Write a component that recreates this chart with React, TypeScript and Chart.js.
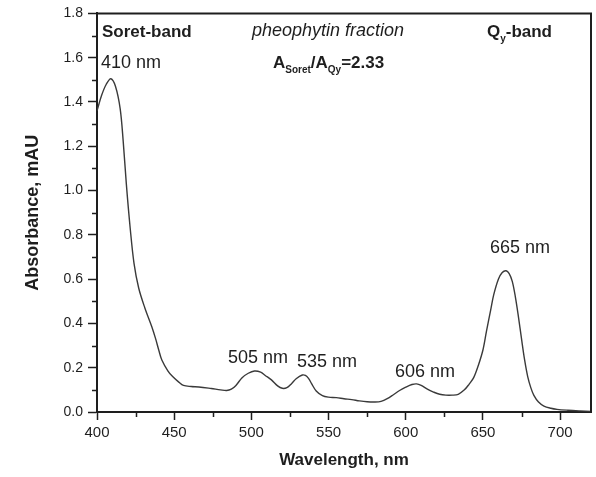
import React, { useEffect, useRef } from "react";
import { Chart, registerables } from "chart.js";

Chart.register(...registerables);

// ---- data ----
const wavelengths = [
  400, 403, 406, 409, 412, 415, 417, 419, 421.5, 424, 427, 431, 435.5, 438, 440, 442, 446, 449, 453, 456,
  461, 466, 474, 480, 484, 487, 490, 494, 498, 502, 506, 509, 513, 517, 520, 523, 526, 529, 533, 535,
  537, 539, 542, 546, 550, 555, 560, 565, 570, 575, 580, 584, 588, 592, 596, 600, 604, 607, 610, 614,
  618, 622, 626, 630, 634, 638, 641, 644, 647, 650, 652.3, 655, 657, 660, 662.5, 665, 667, 669, 671,
  673, 675, 677, 679, 681, 683, 686, 689.5, 694, 698, 705, 713, 720,
];
const absorbance = [
  1.36, 1.43, 1.48, 1.505, 1.47, 1.37, 1.22, 1.03, 0.83, 0.67, 0.56, 0.47, 0.385, 0.33, 0.28, 0.235, 0.185, 0.16, 0.135, 0.12,
  0.115, 0.113, 0.106, 0.1, 0.097, 0.103, 0.12, 0.155, 0.175, 0.185, 0.18, 0.165, 0.145, 0.118, 0.107, 0.11, 0.128, 0.15, 0.167, 0.165,
  0.152, 0.128, 0.095, 0.074, 0.067, 0.065, 0.06, 0.056, 0.05, 0.046, 0.045, 0.048, 0.06, 0.078, 0.097, 0.112, 0.124, 0.127, 0.12, 0.103,
  0.09, 0.08, 0.076, 0.076, 0.08, 0.1, 0.125, 0.155, 0.21, 0.28, 0.365, 0.46, 0.53, 0.6, 0.63, 0.638, 0.625, 0.59, 0.52,
  0.43, 0.33, 0.235, 0.16, 0.11, 0.075, 0.045, 0.027, 0.017, 0.012, 0.008, 0.005, 0.003,
];
const xTickValues = [400, 425, 450, 475, 500, 525, 550, 575, 600, 625, 650, 675, 700];
const xLabelValues = [400, 450, 500, 550, 600, 650, 700];
const yTickValues = [0, 0.1, 0.2, 0.3, 0.4, 0.5, 0.6, 0.7, 0.8, 0.9, 1.0, 1.1, 1.2, 1.3, 1.4, 1.5, 1.6, 1.7, 1.8];
const yLabelValues = [0, 0.2, 0.4, 0.6, 0.8, 1.0, 1.2, 1.4, 1.6, 1.8];
const xTitle = "Wavelength, nm";
const yTitle = "Absorbance, mAU";

type Part = { text: string; sub?: boolean };
type Note = { parts: Part[]; x: number; y: number; style: string; size: number };
const notes: Note[] = [
  { parts: [{ text: "Soret-band" }], x: 403.2, y: 1.692, style: "bold", size: 17 },
  { parts: [{ text: "pheophytin fraction" }], x: 500.4, y: 1.7, style: "italic", size: 18 },
  { parts: [{ text: "Q" }, { text: "y", sub: true }, { text: "-band" }], x: 652.6, y: 1.692, style: "bold", size: 17 },
  {
    parts: [
      { text: "A" }, { text: "Soret", sub: true }, { text: "/A" }, { text: "Qy", sub: true }, { text: "=2.33" },
    ],
    x: 514, y: 1.553, style: "bold", size: 17,
  },
  { parts: [{ text: "410 nm" }], x: 402.6, y: 1.554, style: "normal", size: 18 },
  { parts: [{ text: "505 nm" }], x: 484.8, y: 0.2205, style: "normal", size: 18 },
  { parts: [{ text: "535 nm" }], x: 529.5, y: 0.204, style: "normal", size: 18 },
  { parts: [{ text: "606 nm" }], x: 593, y: 0.159, style: "normal", size: 18 },
  { parts: [{ text: "665 nm" }], x: 654.5, y: 0.717, style: "normal", size: 18 },
];

const FONT = "'Liberation Sans', Arial, sans-serif";
const INK = "#1e1e1e";

const isLabelX = (v: number) => xLabelValues.some((l) => Math.abs(l - v) < 1e-6);
const isLabelY = (v: number) => yLabelValues.some((l) => Math.abs(l - v) < 1e-6);

const decorPlugin = {
  id: "decor",
  afterDraw(chart: any) {
    const { ctx, chartArea } = chart;
    const xs = chart.scales.x;
    const ys = chart.scales.y;
    ctx.save();
    // frame top & right
    ctx.strokeStyle = INK;
    ctx.lineWidth = 2;
    ctx.beginPath();
    ctx.moveTo(chartArea.left - 1, chartArea.top);
    ctx.lineTo(chartArea.right, chartArea.top);
    ctx.lineTo(chartArea.right, chartArea.bottom + 1);
    ctx.stroke();
    // minor ticks
    ctx.lineWidth = 1.5;
    ctx.beginPath();
    for (const v of xTickValues) {
      if (isLabelX(v)) continue;
      const px = Math.round(xs.getPixelForValue(v)) + 0.5;
      ctx.moveTo(px, chartArea.bottom);
      ctx.lineTo(px, chartArea.bottom + 5);
    }
    for (const v of yTickValues) {
      if (isLabelY(v)) continue;
      const py = Math.round(ys.getPixelForValue(v)) + 0.5;
      ctx.moveTo(chartArea.left, py);
      ctx.lineTo(chartArea.left - 5, py);
    }
    ctx.stroke();
    // annotations
    ctx.fillStyle = INK;
    ctx.textBaseline = "alphabetic";
    ctx.textAlign = "left";
    for (const n of notes) {
      let px = xs.getPixelForValue(n.x);
      const py = ys.getPixelForValue(n.y);
      const weight = n.style === "bold" ? "bold " : "";
      const italic = n.style === "italic" ? "italic " : "";
      for (const p of n.parts) {
        const size = p.sub ? Math.round(n.size * 0.6) : n.size;
        ctx.font = `${italic}${weight}${size}px ${FONT}`;
        ctx.fillText(p.text, px, py + (p.sub ? 5 : 0));
        px += ctx.measureText(p.text).width;
      }
    }
    ctx.restore();
  },
};

export default function App() {
  const canvasRef = useRef<HTMLCanvasElement | null>(null);

  useEffect(() => {
    if (!canvasRef.current) return;
    const chart = new Chart(canvasRef.current, {
      type: "line",
      data: {
        datasets: [
          {
            data: wavelengths.map((w, i) => ({ x: w, y: absorbance[i] })),
            borderColor: "#3a3a3a",
            borderWidth: 1.4,
            pointRadius: 0,
            fill: false,
            tension: 0.35,
          },
        ],
      },
      options: {
        animation: false,
        responsive: true,
        maintainAspectRatio: false,
        layout: { padding: { top: 12, right: 5, left: 0, bottom: 0 } },
        plugins: { legend: { display: false }, tooltip: { enabled: false } },
        scales: {
          x: {
            type: "linear",
            min: 400,
            max: 720,
            afterBuildTicks: (scale: any) => {
              scale.ticks = xTickValues.map((v) => ({ value: v }));
            },
            afterFit: (scale: any) => {
              scale.height = 65;
            },
            ticks: {
              autoSkip: false,
              maxRotation: 0,
              padding: 4,
              color: INK,
              font: { family: FONT, size: 15 },
              callback: (v: any) => (isLabelX(Number(v)) ? String(v) : ""),
            },
            grid: {
              display: true,
              drawOnChartArea: false,
              drawTicks: true,
              tickLength: 8,
              tickWidth: 1.5,
              tickColor: (c: any) => (c.tick && isLabelX(c.tick.value) ? INK : "rgba(0,0,0,0)"),
            },
            border: { display: true, color: INK, width: 2 },
            title: {
              display: true,
              text: xTitle,
              color: INK,
              font: { family: FONT, size: 17, weight: "bold" },
              padding: { top: 0, bottom: 6 },
            },
          },
          y: {
            type: "linear",
            min: 0,
            max: 1.8,
            afterBuildTicks: (scale: any) => {
              scale.ticks = yTickValues.map((v) => ({ value: v }));
            },
            afterFit: (scale: any) => {
              scale.width = 97;
            },
            ticks: {
              autoSkip: false,
              padding: 5,
              color: INK,
              font: { family: FONT, size: 14 },
              callback: (v: any) => (isLabelY(Number(v)) ? Number(v).toFixed(1) : ""),
            },
            grid: {
              display: true,
              drawOnChartArea: false,
              drawTicks: true,
              tickLength: 9,
              tickWidth: 1.5,
              tickColor: (c: any) => (c.tick && isLabelY(c.tick.value) ? INK : "rgba(0,0,0,0)"),
            },
            border: { display: true, color: INK, width: 2 },
            title: {
              display: true,
              text: yTitle,
              color: INK,
              font: { family: FONT, size: 18, weight: "bold" },
              padding: { top: 22, bottom: 0 },
            },
          },
        },
      },
      plugins: [decorPlugin],
    } as any);
    return () => chart.destroy();
  }, []);

  return (
    <div style={{ position: "fixed", left: 0, top: 0, width: 596, height: 477, background: "#fff" }}>
      <canvas ref={canvasRef} />
    </div>
  );
}
